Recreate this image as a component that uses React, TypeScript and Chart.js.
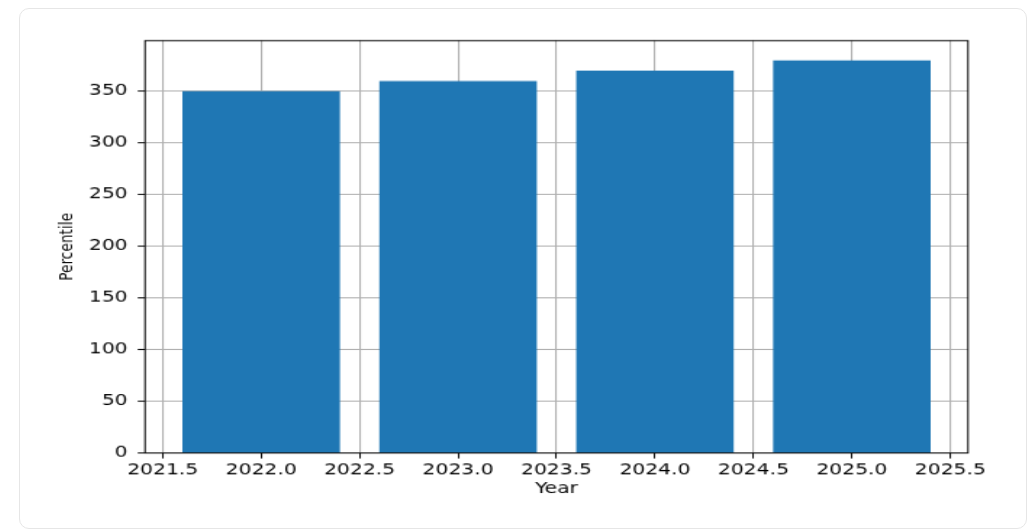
import React, { useEffect, useRef } from "react";
import { Chart, registerables } from "chart.js";

Chart.register(...registerables);

const years = [2022, 2023, 2024, 2025];
const percentiles = [350, 360, 370, 380];
const xBounds = [2021.41, 2025.59];
const yBounds = [0, 399];
const xTicks = [2021.5, 2022, 2022.5, 2023, 2023.5, 2024, 2024.5, 2025, 2025.5];
const yTicks = [0, 50, 100, 150, 200, 250, 300, 350];

// the reference figure is stretched wider than tall, so draw at a base size and stretch it with css
const BASE_W = 690;
const BASE_H = 470;
const SCALE_X = 1.45;
const SCALE_Y = 1.1;

const TEXT = "#000";
const GRID = "#b0b0b0";
const FONT = "'DejaVu Sans', sans-serif";

// box round the plot area, drawn on top like the matplotlib spines
const spinesPlugin = {
  id: "spines",
  afterDraw(chart: Chart) {
    const { ctx, chartArea: a } = chart;
    ctx.save();
    ctx.strokeStyle = "#000";
    ctx.lineWidth = 1;
    ctx.strokeRect(a.left, a.top, a.right - a.left, a.bottom - a.top);
    ctx.restore();
  },
};

export default function App() {
  const canvasRef = useRef<HTMLCanvasElement | null>(null);

  useEffect(() => {
    if (!canvasRef.current) return;

    const chart = new Chart(canvasRef.current, {
      type: "bar",
      data: {
        datasets: [
          {
            data: years.map((y, i) => ({ x: y, y: percentiles[i] })),
            backgroundColor: "#1f77b4",
            borderWidth: 0,
            // ruler uses the 0.5 tick spacing, so 1.6 gives bars 0.8 years wide
            barPercentage: 1.6,
            categoryPercentage: 1,
          },
        ],
      },
      options: {
        responsive: false,
        devicePixelRatio: 1,
        animation: false,
        layout: { padding: { top: 28.8, right: 36.2, bottom: 0, left: 0 } },
        plugins: {
          legend: { display: false },
          tooltip: { enabled: false },
        },
        scales: {
          x: {
            type: "linear",
            min: xBounds[0],
            max: xBounds[1],
            offset: false,
            z: 1,
            border: { display: false },
            grid: {
              offset: false,
              color: GRID,
              lineWidth: 1.1,
              tickColor: "#000",
              tickLength: 5,
              tickWidth: 1,
            },
            afterBuildTicks: (scale) => {
              scale.ticks = xTicks.map((value) => ({ value }));
            },
            ticks: {
              autoSkip: false,
              maxRotation: 0,
              padding: 2,
              color: TEXT,
              font: { family: FONT, size: 14 },
              callback: (v) => Number(v).toFixed(1),
            },
            title: {
              display: true,
              text: "Year",
              color: TEXT,
              font: { family: FONT, size: 14 },
              padding: { top: 0, bottom: 25 },
            },
            afterFit: (scale) => {
              scale.height = 66.4;
            },
          },
          y: {
            type: "linear",
            min: yBounds[0],
            max: yBounds[1],
            z: 1,
            border: { display: false },
            grid: {
              color: GRID,
              lineWidth: 1.1,
              tickColor: "#000",
              tickLength: 5,
              tickWidth: 1,
            },
            afterBuildTicks: (scale) => {
              scale.ticks = yTicks.map((value) => ({ value }));
            },
            ticks: {
              padding: 7,
              color: TEXT,
              font: { family: FONT, size: 14 },
              callback: (v) => String(v),
            },
            title: {
              display: true,
              text: "Percentile",
              color: TEXT,
              font: { family: FONT, size: 12.5 },
              padding: { top: 25.5, bottom: 0 },
            },
            afterFit: (scale) => {
              scale.width = 86.2;
            },
          },
        },
      },
      plugins: [spinesPlugin],
    });

    return () => {
      chart.destroy();
    };
  }, []);

  return (
    <div
      style={{
        marginLeft: 11,
        width: 1008,
        height: 521,
        boxSizing: "border-box",
        border: "1px solid #e6e6e6",
        borderRadius: 10,
        overflow: "hidden",
        position: "relative",
        background: "#fff",
      }}
    >
      <div
        style={{
          position: "absolute",
          left: 0,
          top: 0,
          width: BASE_W,
          height: BASE_H,
          transform: `scale(${SCALE_X}, ${SCALE_Y})`,
          transformOrigin: "0 0",
        }}
      >
        <canvas
          ref={canvasRef}
          width={BASE_W}
          height={BASE_H}
          style={{ width: BASE_W, height: BASE_H }}
        />
      </div>
    </div>
  );
}
